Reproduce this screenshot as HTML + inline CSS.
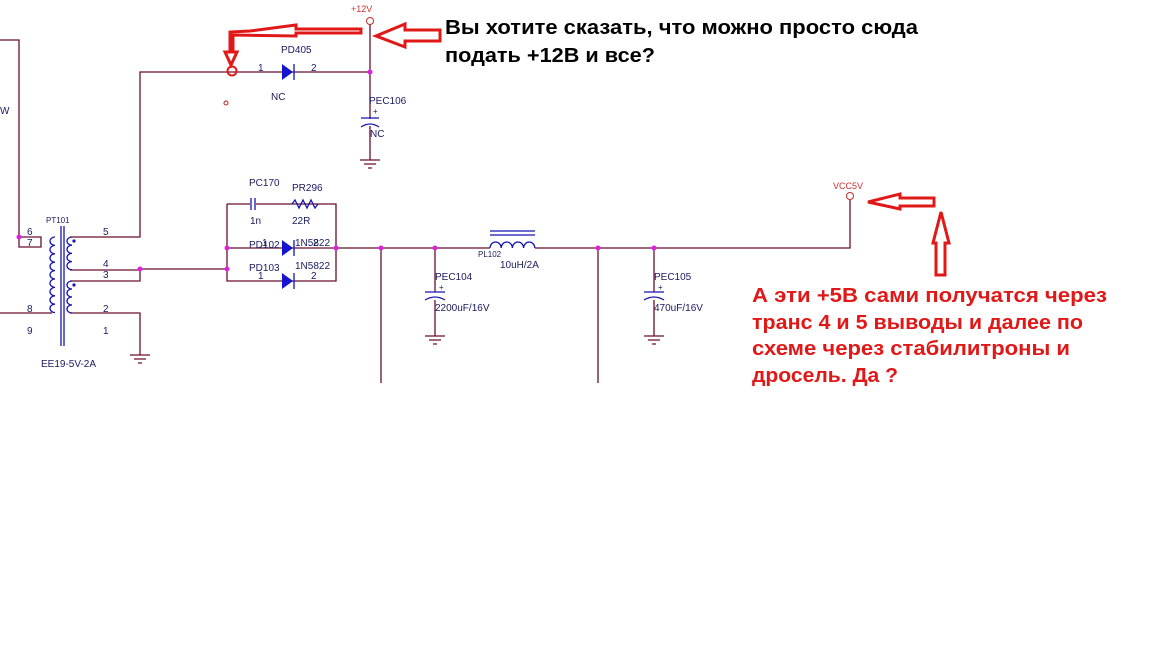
<!DOCTYPE html>
<html><head><meta charset="utf-8"><style>
body{margin:0;background:#fff;width:1152px;height:648px;overflow:hidden}
svg{display:block}
.w{stroke:#6a0f2e;stroke-width:1.3;fill:none}
.b{stroke:#1515b0;stroke-width:1.3;fill:none}
.t{font-family:"Liberation Sans",sans-serif;font-size:10px;fill:#1a1a60}
.r{stroke:#e01818;stroke-width:3;fill:none}
.j{fill:#e020e0}
.big{font-family:"Liberation Sans","DejaVu Sans",sans-serif;font-weight:bold;font-size:20px}
</style></head><body>
<svg width="1152" height="648" viewBox="0 0 1152 648">
<path class="w" d="M0 40H19V237H41V247H19V237 M0 313H52"/>
<path class="w" d="M70 237H140V72H370 M370 21V160 M70 270H140V281H70 M140 269H227 M70 313H140V355 M227 204H336V281H227V204 M227 248H336 M336 248H490 M535 248H850V200 M381 248V383 M598 248V383 M435 248V292 M435 300V336 M654 248V292 M654 300V336"/>
<circle cx="370" cy="21" r="3.5" fill="#fff" stroke="#c03030"/>
<circle cx="850" cy="196" r="3.5" fill="#fff" stroke="#c03030"/>
<circle cx="226" cy="103" r="2" fill="none" stroke="#c02020"/>
<g class="w">
<path d="M130 355h20M134 359h12M138 363h4"/>
<path d="M360 160h20M364 164h12M368 168h4"/>
<path d="M425 336h20M429 340h12M433 344h4"/>
<path d="M644 336h20M648 340h12M652 344h4"/>
</g>
<path class="b" d="M55 237 a5 4.2 0 0 0 0 8.4 a5 4.2 0 0 0 0 8.4 a5 4.2 0 0 0 0 8.4 a5 4.2 0 0 0 0 8.4 a5 4.2 0 0 0 0 8.4 a5 4.2 0 0 0 0 8.4 a5 4.2 0 0 0 0 8.4 a5 4.2 0 0 0 0 8.4 a5 4.2 0 0 0 0 8.4"/>
<path class="b" d="M72 237 a5 4.1 0 0 0 0 8.2 a5 4.1 0 0 0 0 8.2 a5 4.1 0 0 0 0 8.2 a5 4.1 0 0 0 0 8.2 M72 281 a5 4 0 0 0 0 8 a5 4 0 0 0 0 8 a5 4 0 0 0 0 8 a5 4 0 0 0 0 8"/>
<path class="b" d="M61 226V346M64 226V346"/>
<circle cx="74" cy="241" r="1.6" fill="#1515b0"/><circle cx="74" cy="285" r="1.6" fill="#1515b0"/>
<g fill="#1515d0">
<path d="M282 64v16l11-8z"/><path d="M282 240v16l11-8z"/><path d="M282 273v16l11-8z"/>
</g>
<path class="b" d="M294 64v16M294 240v16M294 273v16"/>
<rect x="250" y="198" width="6" height="12" fill="#fff"/>
<path class="b" d="M251 198v12M255 198v12"/>
<path class="b" d="M292 204l3-4 4 8 4-8 4 8 4-8 4 8 3-4"/>
<rect x="360" y="119" width="20" height="7" fill="#fff"/><path class="b" d="M361 118h18M361 127q9-6 18 0"/>
<rect x="424" y="293" width="22" height="7" fill="#fff"/><path class="b" d="M425 292h20M425 300q10-6 20 0"/>
<rect x="643" y="293" width="22" height="7" fill="#fff"/><path class="b" d="M644 292h20M644 300q10-6 20 0"/>
<rect x="490" y="238" width="45" height="12" fill="#fff"/>
<path class="b" d="M490 248a5.6 6 0 0 1 11.2 0a5.6 6 0 0 1 11.2 0a5.6 6 0 0 1 11.2 0a5.6 6 0 0 1 11.2 0 M490 231h45M490 235h45"/>
<g class="j"><circle cx="19" cy="237" r="2.5"/><circle cx="140" cy="269" r="2.5"/><circle cx="227" cy="248" r="2.5"/><circle cx="227" cy="269" r="2.5"/><circle cx="336" cy="248" r="2.5"/><circle cx="381" cy="248" r="2.5"/><circle cx="435" cy="248" r="2.5"/><circle cx="598" cy="248" r="2.5"/><circle cx="654" cy="248" r="2.5"/><circle cx="370" cy="72" r="2.5"/></g>
<g class="t">
<text x="0" y="114">W</text>
<text x="46" y="223" font-size="8">PT101</text>
<text x="27" y="235">6</text><text x="27" y="246">7</text><text x="27" y="312">8</text><text x="27" y="334">9</text>
<text x="103" y="235">5</text><text x="103" y="267">4</text><text x="103" y="278">3</text><text x="103" y="312">2</text><text x="103" y="334">1</text>
<text x="41" y="367">EE19-5V-2A</text>
<text x="281" y="53">PD405</text><text x="258" y="71">1</text><text x="311" y="71">2</text><text x="271" y="100">NC</text>
<text x="351" y="12" font-size="9" fill="#d03030">+12V</text>
<text x="369" y="104">PEC106</text><text x="373" y="114" font-size="8">+</text><text x="370" y="137">NC</text>
<text x="249" y="186">PC170</text><text x="292" y="191">PR296</text><text x="250" y="224">1n</text><text x="292" y="224">22R</text>
<text x="249" y="248">PD102</text><text x="295" y="246">1N5822</text><text x="262" y="246">1</text><text x="313" y="246">2</text>
<text x="249" y="271">PD103</text><text x="295" y="269">1N5822</text><text x="258" y="279">1</text><text x="311" y="279">2</text>
<text x="478" y="257" font-size="8">PL102</text><text x="500" y="268">10uH/2A</text>
<text x="435" y="280">PEC104</text><text x="439" y="290" font-size="8">+</text><text x="435" y="311">2200uF/16V</text>
<text x="654" y="280">PEC105</text><text x="658" y="290" font-size="8">+</text><text x="654" y="311">470uF/16V</text>
<text x="833" y="189" font-size="9" fill="#d03030">VCC5V</text>
</g>
<path class="r" d="M440 30H405V24L376 36L405 47V41H440Z"/>
<path class="r" d="M361 29H296V25L250 31L230 32V52H225L231 65L237 52H233V35L296 36V33H361Z"/>
<circle cx="232" cy="71" r="4.5" fill="none" stroke="#e01818" stroke-width="2"/>
<path class="r" d="M934 198H900V194L868 202L900 209V206H934Z"/>
<path class="r" d="M936 275V243H933L941 212L949 243H945V275Z" stroke-width="2.5"/>
<text class="big" x="445" y="34" fill="#000" textLength="473" lengthAdjust="spacingAndGlyphs">Вы хотите сказать, что можно просто сюда</text>
<text class="big" x="445" y="62" fill="#000" textLength="210" lengthAdjust="spacingAndGlyphs">подать +12В и все?</text>
<g class="big" fill="#e01818">
<text x="752" y="302" textLength="355" lengthAdjust="spacingAndGlyphs">А эти +5В сами получатся через</text>
<text x="752" y="329" textLength="331" lengthAdjust="spacingAndGlyphs">транс 4 и 5 выводы и далее по</text>
<text x="752" y="355" textLength="318" lengthAdjust="spacingAndGlyphs">схеме через стабилитроны и</text>
<text x="752" y="382" textLength="146" lengthAdjust="spacingAndGlyphs">дросель. Да ?</text>
</g>
</svg>
</body></html>
